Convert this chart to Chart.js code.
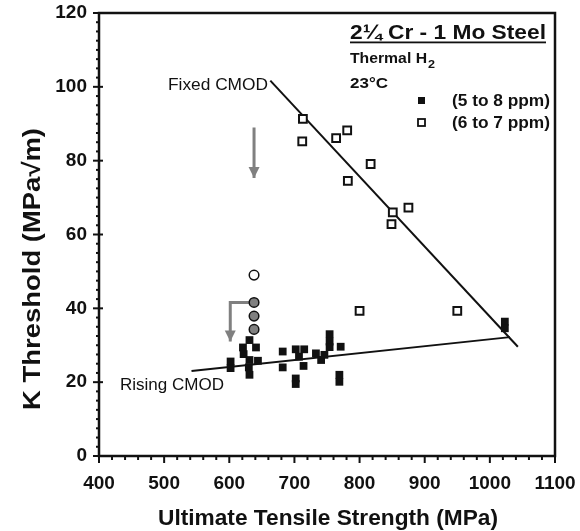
<!DOCTYPE html>
<html>
<head>
<meta charset="utf-8">
<script src="https://cdn.jsdelivr.net/npm/chart.js@4.4.0/dist/chart.umd.min.js"></script>
<style>
  html, body { margin: 0; padding: 0; background: #fff; }
</style>
</head>
<body>
<canvas id="chart" width="580" height="531"></canvas>
<script>
// Ultimate tensile strength (MPa) and K threshold values
const uts5to8 = [602, 602, 621, 622, 631, 631, 630, 631, 641, 644, 682, 682, 702, 715, 707, 714, 702, 702, 733, 741, 746, 754, 754, 754, 771, 769, 769, 1023, 1023];
const k5to8 = [25.6, 23.8, 29.4, 27.6, 31.4, 26, 24, 22, 29.4, 25.8, 28.3, 24, 28.9, 28.9, 26.9, 24.4, 21, 19.5, 27.8, 26, 27.4, 33, 31, 29.5, 29.6, 22, 20.1, 36.4, 34.6];

const uts6to7 = [713, 712, 764, 781, 817, 782, 875, 851, 849, 800, 950];
const k6to7 = [91.3, 85.2, 86.1, 88.2, 79.1, 74.5, 67.3, 66, 62.8, 39.3, 39.3];

const utsCircles = [638, 638, 638];
const kGrayCircles = [41.6, 37.9, 34.3];
const utsOpenCircle = [638];
const kOpenCircle = [49];

// trend lines (end points)
const fixedUts = [663, 1043];
const fixedK = [101.7, 29.6];
const risingUts = [542, 1031];
const risingK = [23, 32.2];

// gray arrows
const arrowDownUts = [638, 638];
const arrowDownK = [89, 75.3];
const arrowBentUts = [638, 601.5, 601.5];
const arrowBentK = [41.6, 41.6, 31];

const xMin = 400, xMax = 1100, xStep = 20, xMajor = 100;
const yMin = 0, yMax = 120, yStep = 2.5, yMajor = 20;

function pts(xs, ys) {
  return xs.map((x, i) => ({ x: x, y: ys[i] }));
}

const FONT = "'Liberation Sans', Arial, sans-serif";
const GRAY = "#808080";

function fitText(ctx, text, x, y, font, width, align) {
  ctx.save();
  ctx.font = font;
  const m = ctx.measureText(text).width;
  const sx = width / m;
  ctx.translate(x, y);
  ctx.scale(sx, 1);
  ctx.textAlign = "left";
  let off = 0;
  if (align === "center") off = -m / 2;
  if (align === "right") off = -m;
  ctx.fillText(text, off, 0);
  ctx.restore();
}

function arrowHead(ctx, xs, ys, scales) {
  const n = xs.length;
  const x1 = scales.x.getPixelForValue(xs[n - 2]);
  const y1 = scales.y.getPixelForValue(ys[n - 2]);
  const x2 = scales.x.getPixelForValue(xs[n - 1]);
  const y2 = scales.y.getPixelForValue(ys[n - 1]);
  const a = Math.atan2(y2 - y1, x2 - x1);
  const len = 11, half = 5.5;
  ctx.save();
  ctx.fillStyle = GRAY;
  ctx.translate(x2, y2);
  ctx.rotate(a);
  ctx.beginPath();
  ctx.moveTo(0, 0);
  ctx.lineTo(-len, -half);
  ctx.lineTo(-len, half);
  ctx.closePath();
  ctx.fill();
  ctx.restore();
}

const decor = {
  id: "decor",
  afterDatasetsDraw(chart) {
    const ctx = chart.ctx;
    const area = chart.chartArea;
    const sx = chart.scales.x;
    const sy = chart.scales.y;

    // arrow heads
    arrowHead(ctx, arrowDownUts, arrowDownK, chart.scales);
    arrowHead(ctx, arrowBentUts, arrowBentK, chart.scales);

    // frame
    ctx.save();
    ctx.strokeStyle = "#111";
    ctx.lineWidth = 2.5;
    ctx.strokeRect(area.left, area.top, area.right - area.left, area.bottom - area.top);

    // tick marks
    ctx.lineWidth = 2;
    sx.ticks.forEach((t) => {
      const px = sx.getPixelForValue(t.value);
      const major = t.value % xMajor === 0;
      ctx.beginPath();
      ctx.moveTo(px, area.bottom);
      ctx.lineTo(px, area.bottom + (major ? 7 : 4));
      ctx.stroke();
    });
    sy.ticks.forEach((t) => {
      const py = sy.getPixelForValue(t.value);
      const major = t.value % yMajor === 0;
      ctx.beginPath();
      ctx.moveTo(area.left + (major ? 4 : 0), py);
      ctx.lineTo(area.left - (major ? 6 : 3), py);
      ctx.stroke();
    });
    ctx.restore();

    ctx.save();
    ctx.fillStyle = "#111";
    ctx.textBaseline = "alphabetic";

    // axis titles
    fitText(ctx, "Ultimate Tensile Strength (MPa)", 328, 525, "bold 22px " + FONT, 340, "center");
    ctx.save();
    ctx.translate(40, 269);
    ctx.rotate(-Math.PI / 2);
    fitText(ctx, "K Threshold (MPa\u221Am)", 0, 0, "bold 24px " + FONT, 282, "center");
    ctx.restore();

    // heading
    fitText(ctx, "2\u00BC Cr - 1 Mo Steel", 350, 39, "bold 21px " + FONT, 196, "left");
    ctx.fillRect(350, 41.5, 196, 1.8);
    fitText(ctx, "Thermal H", 350, 63, "bold 15px " + FONT, 77, "left");
    fitText(ctx, "2", 428, 68, "bold 11px " + FONT, 7, "left");
    fitText(ctx, "23\u00B0C", 350, 88, "bold 15px " + FONT, 38, "left");

    // legend
    ctx.fillRect(418, 97, 7, 7);
    ctx.strokeStyle = "#111";
    ctx.lineWidth = 1.8;
    ctx.fillStyle = "#fff";
    ctx.fillRect(418, 119, 7, 7);
    ctx.strokeRect(418, 119, 7, 7);
    ctx.fillStyle = "#111";
    fitText(ctx, "(5 to 8 ppm)", 452, 106, "bold 16px " + FONT, 98, "left");
    fitText(ctx, "(6 to 7 ppm)", 452, 128, "bold 16px " + FONT, 98, "left");

    // line labels
    fitText(ctx, "Fixed CMOD", 168, 90, "16px " + FONT, 100, "left");
    fitText(ctx, "Rising CMOD", 120, 390, "16px " + FONT, 104, "left");
    ctx.restore();
  }
};

const ctx = document.getElementById("chart");

new Chart(ctx, {
  type: "scatter",
  data: {
    datasets: [
      {
        label: "(5 to 8 ppm)",
        data: pts(uts5to8, k5to8),
        pointStyle: "rect",
        pointRadius: 5.5,
        backgroundColor: "#111",
        borderColor: "#111",
        borderWidth: 0,
        order: 1,
      },
      {
        label: "(6 to 7 ppm)",
        data: pts(uts6to7, k6to7),
        pointStyle: "rect",
        pointRadius: 5.5,
        backgroundColor: "#fff",
        borderColor: "#111",
        borderWidth: 2,
        order: 1,
      },
      {
        label: "gray circles",
        data: pts(utsCircles, kGrayCircles),
        pointStyle: "circle",
        pointRadius: 4.8,
        backgroundColor: GRAY,
        borderColor: "#111",
        borderWidth: 1.5,
        order: 0,
      },
      {
        label: "open circle",
        data: pts(utsOpenCircle, kOpenCircle),
        pointStyle: "circle",
        pointRadius: 4.8,
        backgroundColor: "#fff",
        borderColor: "#111",
        borderWidth: 1.5,
        order: 0,
      },
      {
        label: "Fixed CMOD",
        data: pts(fixedUts, fixedK),
        showLine: true,
        borderColor: "#111",
        borderWidth: 2,
        pointRadius: 0,
        order: 3,
      },
      {
        label: "Rising CMOD",
        data: pts(risingUts, risingK),
        showLine: true,
        borderColor: "#111",
        borderWidth: 2,
        pointRadius: 0,
        order: 3,
      },
      {
        label: "arrow down",
        data: pts(arrowDownUts, arrowDownK),
        showLine: true,
        borderColor: GRAY,
        borderWidth: 3,
        pointRadius: 0,
        order: 2,
      },
      {
        label: "arrow bent",
        data: pts(arrowBentUts, arrowBentK),
        showLine: true,
        borderColor: GRAY,
        borderWidth: 3,
        pointRadius: 0,
        order: 2,
      },
    ],
  },
  options: {
    responsive: false,
    animation: false,
    layout: {
      padding: { top: 13, right: 25, left: 0, bottom: 0 },
    },
    plugins: {
      legend: { display: false },
      tooltip: { enabled: false },
    },
    scales: {
      x: {
        type: "linear",
        min: xMin,
        max: xMax,
        afterFit: function (scale) {
          scale.height = 75;
          scale.paddingLeft = 0;
          scale.paddingRight = 0;
        },
        grid: { display: false, drawTicks: false },
        border: { display: false },
        ticks: {
          stepSize: xStep,
          autoSkip: false,
          maxRotation: 0,
          padding: 16,
          color: "#111",
          font: { family: FONT, size: 19, weight: "bold" },
          callback: function (value) {
            return value % xMajor === 0 ? value : "";
          },
        },
      },
      y: {
        type: "linear",
        min: yMin,
        max: yMax,
        afterFit: function (scale) {
          scale.width = 99;
          scale.paddingTop = 0;
          scale.paddingBottom = 0;
        },
        grid: { display: false, drawTicks: false },
        border: { display: false },
        ticks: {
          stepSize: yStep,
          autoSkip: false,
          padding: 12,
          color: "#111",
          font: { family: FONT, size: 19, weight: "bold" },
          callback: function (value) {
            return value % yMajor === 0 ? value : "";
          },
        },
      },
    },
  },
  plugins: [decor],
});
</script>
</body>
</html>
